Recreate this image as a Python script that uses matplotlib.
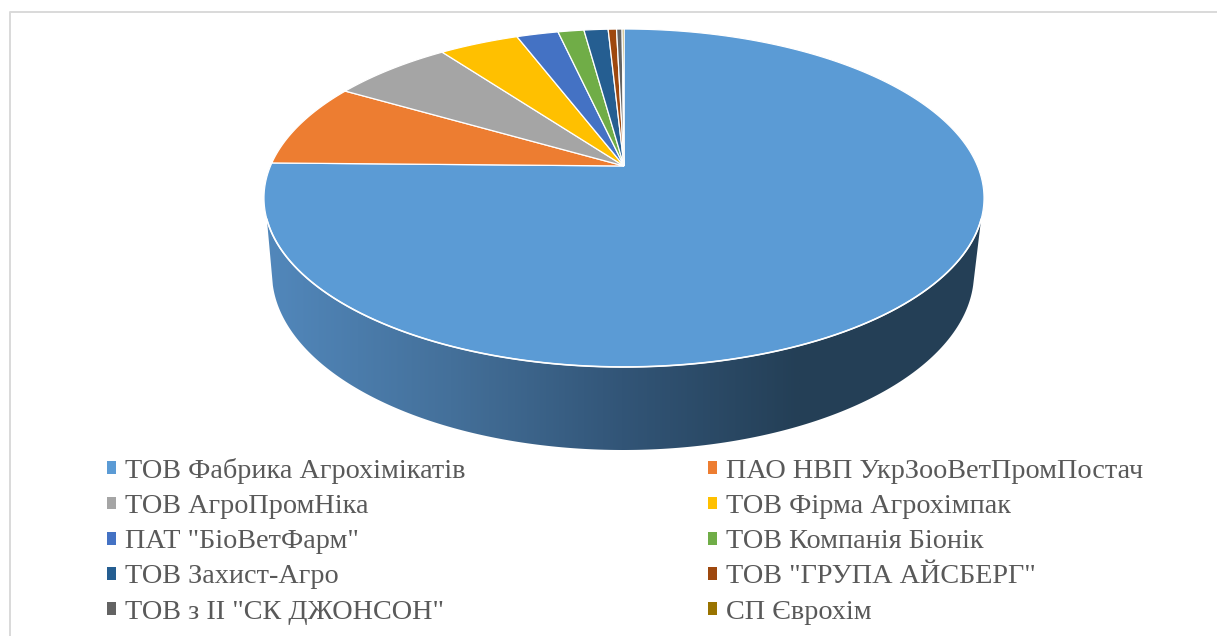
import matplotlib
matplotlib.use("Agg")
import matplotlib.pyplot as plt
import numpy as np
from matplotlib.colors import LinearSegmentedColormap
from matplotlib.patches import Polygon, Patch

# Shares, percent
companies = ['ТОВ Фабрика Агрохімікатів', 'ПАО НВП УкрЗооВетПромПостач',
             'ТОВ АгроПромНіка', 'ТОВ Фірма Агрохімпак',
             'ПАТ "БіоВетФарм"', 'ТОВ Компанія Біонік',
             'ТОВ Захист-Агро', 'ТОВ "ГРУПА АЙСБЕРГ"',
             'ТОВ з ІІ "СК ДЖОНСОН"', 'СП Єврохім']
shares = [75.3, 8.1, 6.5, 4.3, 2.25, 1.4, 1.3, 0.45, 0.3, 0.1]
colors = ['#5B9BD5', '#ED7D31', '#A5A5A5', '#FFC000', '#4472C4',
          '#70AD47', '#255E91', '#9E480E', '#636363', '#997300']

# Perspective of the pie top, in picture pixels
CX = 624
APEX_Y = 166
RADIUS = 353.5
PERSP = 0.1893
SLOPE = -131.5
# Lower rim of the side wall
RIM_X = 623
RIM_Y = 273
RIM_A = 351
RIM_B = 177


def project(t):
    # t = clockwise angle from the top of the circle
    u, v = np.sin(t), np.cos(t)
    w = 1 + PERSP * v
    return CX + RADIUS * u / w, (SLOPE * v + APEX_Y) / w


fig = plt.figure(figsize=(12.17, 6.36), dpi=100)
ax = fig.add_axes([0, 0, 1, 1])

# side wall, only the front part shows
t_top = np.linspace(np.radians(108), np.radians(252), 200)
x_top, y_top = project(t_top)
s = np.linspace(np.radians(176), np.radians(4), 200)
x_low = RIM_X + RIM_A * np.cos(s)
y_low = RIM_Y + RIM_B * np.sin(s)
wall = Polygon(np.r_[np.c_[x_top, y_top], np.c_[x_low, y_low]],
               closed=True, facecolor='none', edgecolor='none')
ax.add_patch(wall)
shade = LinearSegmentedColormap.from_list('shade', [(0, '#5288BC'), (0.35, '#44709A'),
                                                    (0.67, '#325577'), (1, '#243F56')])
img = ax.imshow(np.linspace(0, 1, 256)[None, :], cmap=shade, aspect='auto',
                extent=(263, 800, 460, 200), zorder=1)
img.set_clip_path(wall)
right = ax.imshow(np.ones((1, 2)), cmap=shade, vmin=0, vmax=1, aspect='auto',
                  extent=(800, 990, 460, 200), zorder=1)
right.set_clip_path(wall)

# top face
edges = np.radians(np.r_[0, np.cumsum(shares)] * 360 / np.sum(shares))
handles = []
for i, share in enumerate(shares):
    t = np.linspace(edges[i], edges[i + 1], max(3, int(share * 12)))
    x, y = project(t)
    xy = np.r_[[[CX, APEX_Y]], np.c_[x, y]]
    ax.add_patch(Polygon(xy, closed=True, facecolor=colors[i], edgecolor='white',
                         linewidth=0.9, zorder=2))
    handles.append(Patch(facecolor=colors[i], edgecolor='none', label=companies[i]))
# the white edge reads a bit heavier where the top meets the wall
ax.plot(x_top, y_top, color='white', lw=1.2, zorder=3)

# legend fills column by column
order = [0, 2, 4, 6, 8, 1, 3, 5, 7, 9]
ax.legend([handles[i] for i in order], [companies[i] for i in order], ncol=2,
          loc='upper left', bbox_to_anchor=(107 / 1217, 1 - 458 / 636), frameon=False,
          prop={'family': 'Liberation Serif', 'size': 20.3}, labelcolor='#595959',
          handlelength=0.32, handleheight=0.32, handletextpad=0.32,
          labelspacing=0.36, columnspacing=8.6, borderpad=0, borderaxespad=0)

# frame around the chart, open at right and bottom
ax.plot([10, 10, 1217], [636, 12, 12], color='#D9D9D9', lw=1.4, zorder=0)

ax.set_xlim(0, 1217)
ax.set_ylim(636, 0)
ax.axis('off')
fig.savefig('out.png', dpi=100)
